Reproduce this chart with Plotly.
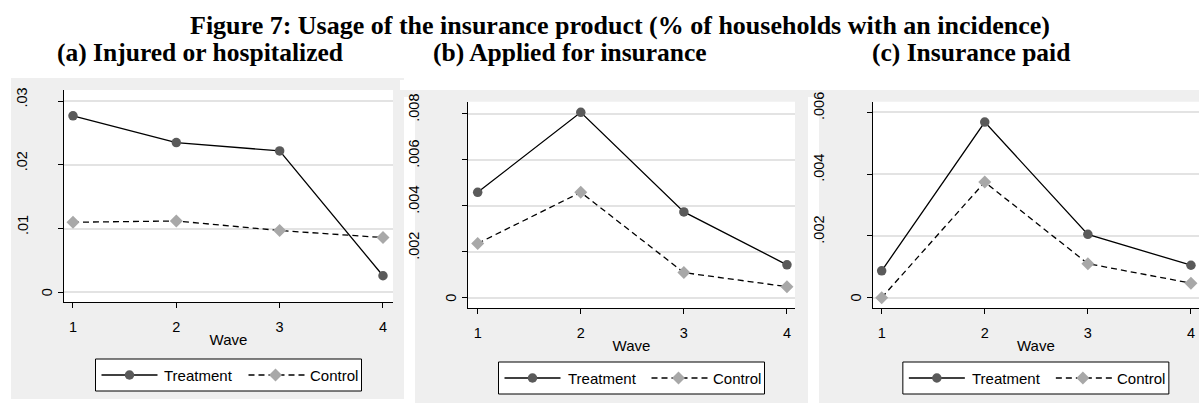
import plotly.graph_objects as go

# Survey waves on the x axis
waves = [1, 2, 3, 4]

# (a) Injured or hospitalized
injured_treatment = [0.0277, 0.0235, 0.0222, 0.0026]
injured_control = [0.0110, 0.0112, 0.0097, 0.0086]

# (b) Applied for insurance
applied_treatment = [0.00458, 0.00806, 0.00373, 0.00143]
applied_control = [0.00236, 0.00458, 0.00109, 0.00048]

# (c) Insurance paid
paid_treatment = [0.00087, 0.00568, 0.00205, 0.00105]
paid_control = [0.0, 0.00374, 0.00110, 0.00047]

# Tick values and labels
x_ticks = [1, 2, 3, 4]
x_labels = ["1", "2", "3", "4"]
y_ticks_a = [0, 0.01, 0.02, 0.03]
y_labels_a = ["0", ".01", ".02", ".03"]
y_ticks_b = [0, 0.002, 0.004, 0.006, 0.008]
y_labels_b = ["0", ".002", ".004", ".006", ".008"]
y_ticks_c = [0, 0.002, 0.004, 0.006]
y_labels_c = ["0", ".002", ".004", ".006"]

main_title = "Figure 7: Usage of the insurance product (% of households with an incidence)"
panel_titles = ["(a) Injured or hospitalized", "(b) Applied for insurance", "(c) Insurance paid"]
series_names = ["Treatment", "Control"]

W, H = 1199, 403
BG_GRAY = "#efefef"
GRID = "#e3e3e3"
TREAT_MARKER = "#5a5a5a"
CTRL_MARKER = "#a8a8a8"
SANS = "Liberation Sans, Arial, sans-serif"
SERIF = "Liberation Serif, Times New Roman, serif"


def fx(px):
    return px / W


def fy(py):
    return 1 - py / H


# Panel layout in pixels: outer gray box, plot area, axis ranges
panels = [
    dict(bg=(11, 78, 404, 399), plot=(64, 90, 393, 302),
         xr=[0.913, 4.097], yr=[-0.00152, 0.03176],
         data=(injured_treatment, injured_control),
         ticks=(y_ticks_a, y_labels_a), title_x=55, legend_y=375, trim=None),
    dict(bg=(415, 90, 808, 403), plot=(468, 101.7, 795, 308),
         xr=[0.906, 4.078], yr=[-0.000448, 0.00852],
         data=(applied_treatment, applied_control),
         ticks=(y_ticks_b, y_labels_b), title_x=431, legend_y=378, trim=(400, 455)),
    dict(bg=(819, 90, 1199, 403), plot=(872.7, 101.7, 1199, 308),
         xr=[0.913, 4.078], yr=[-0.000333, 0.00634],
         data=(paid_treatment, paid_control),
         ticks=(y_ticks_c, y_labels_c), title_x=870, legend_y=378, trim=(805, 860)),
]

fig = go.Figure()
shapes = []
annotations = []

for i, p in enumerate(panels):
    n = "" if i == 0 else str(i + 1)
    xa, ya = "x" + n, "y" + n
    x0, y0, x1, y1 = p["plot"]
    bx0, by0, bx1, by1 = p["bg"]

    # gray graph region and white plot region
    shapes.append(dict(type="rect", xref="paper", yref="paper", layer="below",
                       x0=fx(bx0), x1=fx(bx1), y0=fy(by1), y1=fy(by0),
                       fillcolor=BG_GRAY, line=dict(width=0)))
    shapes.append(dict(type="rect", xref="paper", yref="paper", layer="below",
                       x0=fx(x0), x1=fx(x1), y0=fy(y1), y1=fy(y0),
                       fillcolor="white", line=dict(width=0)))

    treat, ctrl = p["data"]
    fig.add_trace(go.Scatter(
        x=waves, y=treat, name=series_names[0], mode="lines+markers",
        xaxis=xa, yaxis=ya, showlegend=False, cliponaxis=False,
        line=dict(color="black", width=1.3),
        marker=dict(symbol="circle", size=9.5, color=TREAT_MARKER)))
    fig.add_trace(go.Scatter(
        x=waves, y=ctrl, name=series_names[1], mode="lines+markers",
        xaxis=xa, yaxis=ya, showlegend=False, cliponaxis=False,
        line=dict(color="black", width=1.3, dash="6px,4px"),
        marker=dict(symbol="diamond", size=10, color=CTRL_MARKER)))

    xkey = "xaxis" + n
    ykey = "yaxis" + n
    fig.update_layout(**{
        xkey: dict(domain=[fx(x0), fx(x1)], range=p["xr"], anchor=ya,
                   tickvals=x_ticks, ticktext=x_labels, ticks="outside",
                   ticklen=5, tickwidth=1, tickcolor="black",
                   showline=True, linecolor="black", linewidth=1,
                   showgrid=False, zeroline=False,
                   ticklabelstandoff=7,
                   tickfont=dict(family=SANS, size=14.5, color="black"),
                   title=dict(text="Wave", standoff=0,
                              font=dict(family=SANS, size=15, color="black"))),
        ykey: dict(domain=[fy(y1), fy(y0)], range=p["yr"], anchor=xa,
                   tickvals=p["ticks"][0], ticks="outside", ticklen=5,
                   tickwidth=1, tickcolor="black", showticklabels=False,
                   showline=True, linecolor="black", linewidth=1,
                   showgrid=True, gridcolor=GRID, gridwidth=1.5,
                   zeroline=False),
    })

    # rotated y tick labels, spaced out by label length
    for v, lab in zip(*p["ticks"]):
        annotations.append(dict(
            text=lab, xref=xa + " domain", x=0, yref=ya, y=v,
            xshift=-(17 + 12.3 * (len(lab) - 1)), yshift=2 * (len(lab) - 1),
            textangle=-90, showarrow=False, xanchor="center", yanchor="middle",
            font=dict(family=SANS, size=14.5, color="black")))

    # the graph region edge trims the topmost label
    if p["trim"] is not None:
        shapes.append(dict(type="rect", xref="paper", yref="paper", layer="above",
                           x0=fx(p["trim"][0]), x1=fx(p["trim"][1]),
                           y0=fy(97), y1=fy(by0), fillcolor=BG_GRAY,
                           line=dict(width=0)))
        shapes.append(dict(type="rect", xref="paper", yref="paper", layer="above",
                           x0=fx(p["trim"][0]), x1=fx(p["trim"][1]),
                           y0=fy(by0), y1=fy(80), fillcolor="white",
                           line=dict(width=0)))

    # panel subtitle
    annotations.append(dict(
        text="<b>%s</b>" % panel_titles[i], xref="paper", yref="paper",
        x=fx(p["title_x"]), y=fy(52), xanchor="left", yanchor="middle",
        showarrow=False, font=dict(family=SERIF, size=25.5, color="black")))

    # legend box below each plot
    cx = (x0 + x1) / 2
    L = cx - 133
    yc = p["legend_y"]
    shapes.append(dict(type="rect", xref="paper", yref="paper",
                       x0=fx(L), x1=fx(L + 266), y0=fy(yc + 16), y1=fy(yc - 16),
                       fillcolor="white", line=dict(color="black", width=1)))
    shapes.append(dict(type="line", xref="paper", yref="paper",
                       x0=fx(L + 6), x1=fx(L + 62), y0=fy(yc), y1=fy(yc),
                       line=dict(color="black", width=1.3)))
    shapes.append(dict(type="circle", xref="paper", yref="paper",
                       xsizemode="pixel", ysizemode="pixel",
                       xanchor=fx(L + 34), yanchor=fy(yc),
                       x0=-4.75, x1=4.75, y0=-4.75, y1=4.75,
                       fillcolor=TREAT_MARKER, line=dict(width=0)))
    shapes.append(dict(type="line", xref="paper", yref="paper",
                       x0=fx(L + 153), x1=fx(L + 209), y0=fy(yc), y1=fy(yc),
                       line=dict(color="black", width=1.3, dash="6px,4px")))
    shapes.append(dict(type="path", xref="paper", yref="paper",
                       xsizemode="pixel", ysizemode="pixel",
                       xanchor=fx(L + 180), yanchor=fy(yc),
                       path="M0,-6.5 L6.5,0 L0,6.5 L-6.5,0 Z",
                       fillcolor=CTRL_MARKER, line=dict(width=0)))
    annotations.append(dict(
        text=series_names[0], xref="paper", yref="paper", x=fx(L + 67), y=fy(yc),
        xanchor="left", yanchor="middle", showarrow=False,
        font=dict(family=SANS, size=15, color="black")))
    annotations.append(dict(
        text=series_names[1], xref="paper", yref="paper", x=fx(L + 212), y=fy(yc),
        xanchor="left", yanchor="middle", showarrow=False,
        font=dict(family=SANS, size=15, color="black")))

# figure title
annotations.append(dict(
    text="<b>%s</b>" % main_title, xref="paper", yref="paper",
    x=fx(188), y=fy(26), xanchor="left", yanchor="middle", showarrow=False,
    font=dict(family=SERIF, size=26, color="black")))

fig.update_layout(
    width=W, height=H, margin=dict(l=0, r=0, t=0, b=0),
    paper_bgcolor="white", plot_bgcolor="white",
    showlegend=False, shapes=shapes, annotations=annotations,
)

fig.write_html("out.html")
